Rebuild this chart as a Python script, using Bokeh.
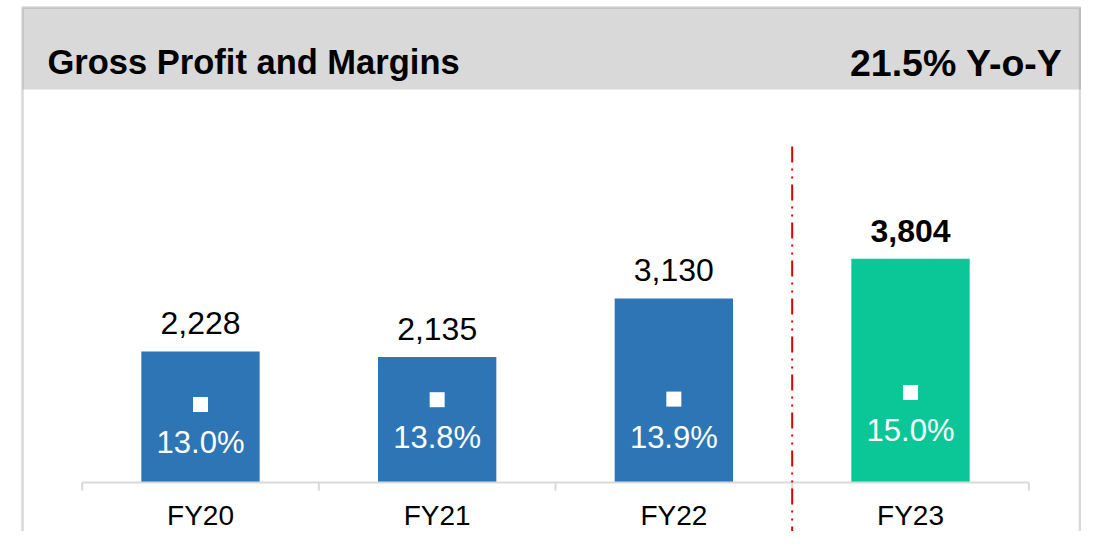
from bokeh.plotting import figure
from bokeh.models import Range1d, BoxAnnotation, Label, ColumnDataSource
from bokeh.core.properties import value
from bokeh.embed import file_html
from bokeh.resources import INLINE

# ---- data ----
categories = ["FY20", "FY21", "FY22", "FY23"]
gross_profit = [2228, 2135, 3130, 3804]
margin_pct = [13.0, 13.8, 13.9, 15.0]
profit_labels = ["2,228", "2,135", "3,130", "3,804"]
margin_labels = ["13.0%", "13.8%", "13.9%", "15.0%"]
title_text = "Gross Profit and Margins"
yoy_text = "21.5% Y-o-Y"

# ---- styles / layout ----
FONT = "Liberation Sans"
bar_colors = ["#2E75B6", "#2E75B6", "#2E75B6", "#0BC797"]
label_styles = ["normal", "normal", "normal", "bold"]

W, H = 1081, 531
base_fy = 482          # baseline, px from top of canvas
px_per_unit = 0.0588   # bar scale
px_per_pct = 6.0       # margin scale
cat_fx0 = 200          # px of first category centre
cat_step = 236.67      # px per category

X0 = -cat_fx0 / cat_step
X1 = (W - cat_fx0) / cat_step
Y1 = base_fy / px_per_unit
Y0 = -(H - base_fy) / px_per_unit
P1 = base_fy / px_per_pct
P0 = -(H - base_fy) / px_per_pct


def dx(fx):
    return X0 + fx / cat_step


def dy(fy):
    return (base_fy - fy) / px_per_unit


n = len(categories)
xs = list(range(n))

src = ColumnDataSource(dict(
    x=xs, cat=categories, gp=gross_profit, m=margin_pct,
    gpl=profit_labels, ml=margin_labels, color=bar_colors, fs=label_styles,
))

p = figure(width=W, height=H, x_range=Range1d(X0, X1), y_range=Range1d(Y0, Y1),
           output_backend="svg", toolbar_location=None,
           x_axis_location=None, y_axis_location=None, min_border=0,
           outline_line_color=None, background_fill_color="white",
           border_fill_color="white")
p.extra_y_ranges = {"pct": Range1d(P0, P1)}
p.xgrid.grid_line_color = None
p.ygrid.grid_line_color = None

# header band and frame border
p.add_layout(BoxAnnotation(left=dx(22), right=dx(1088), top=dy(7), bottom=dy(89),
                           fill_color="#D9D9D9", fill_alpha=1.0, line_color=None,
                           level="underlay"))
p.add_layout(BoxAnnotation(left=dx(22), right=dx(W - 1.5), top=dy(7), bottom=dy(H + 20),
                           fill_alpha=0, line_color="#7F7F7F", line_width=2.5))

p.add_layout(Label(x=dx(47), y=dy(61), text=title_text, text_font=FONT,
                   text_font_size="34.5px", text_font_style="bold",
                   text_color="black", text_baseline="alphabetic", text_align="left"))
p.add_layout(Label(x=dx(1062), y=dy(62), text=yoy_text, text_font=FONT,
                   text_font_size="37.5px", text_font_style="bold",
                   text_color="black", text_baseline="alphabetic", text_align="right"))

# bars
p.vbar(x="x", top="gp", bottom=0, width=0.5, source=src, fill_color="color",
       line_color=None)

# category axis line and boundary ticks
bounds = [i - 0.5 for i in range(n + 1)]
tick_len = 8 / px_per_unit
p.segment(x0=[-0.5], y0=[0], x1=[n - 0.5], y1=[0], line_color="#D9D9D9", line_width=2)
p.segment(x0=bounds, y0=[0] * len(bounds), x1=bounds, y1=[-tick_len] * len(bounds),
          line_color="#D9D9D9", line_width=2)

# divider between history and latest year
p.segment(x0=[n - 1.5], y0=[dy(146)], x1=[n - 1.5], y1=[dy(H)],
          line_color="#E00000", line_width=2, line_dash="16 6 2 6 2 6")

# category labels
p.text(x="x", y=0, text="cat", source=src, y_offset=33, text_align="center",
       text_baseline="middle", text_font=value(FONT), text_font_size="28px",
       text_color="black")

# value labels
p.text(x="x", y="gp", text="gpl", source=src, y_offset=-28, text_align="center",
       text_baseline="middle", text_font=value(FONT), text_font_size="32px",
       text_font_style="fs", text_color="black")

# margin markers and labels
p.scatter(x="x", y="m", source=src, y_range_name="pct", marker="square", size=15,
          fill_color="white", line_color=None)
p.text(x="x", y="m", text="ml", source=src, y_range_name="pct", y_offset=38,
       text_align="center", text_baseline="middle", text_font=value(FONT),
       text_font_size="31px", text_color="white")

open("out.html", "w").write(file_html(p, INLINE))
